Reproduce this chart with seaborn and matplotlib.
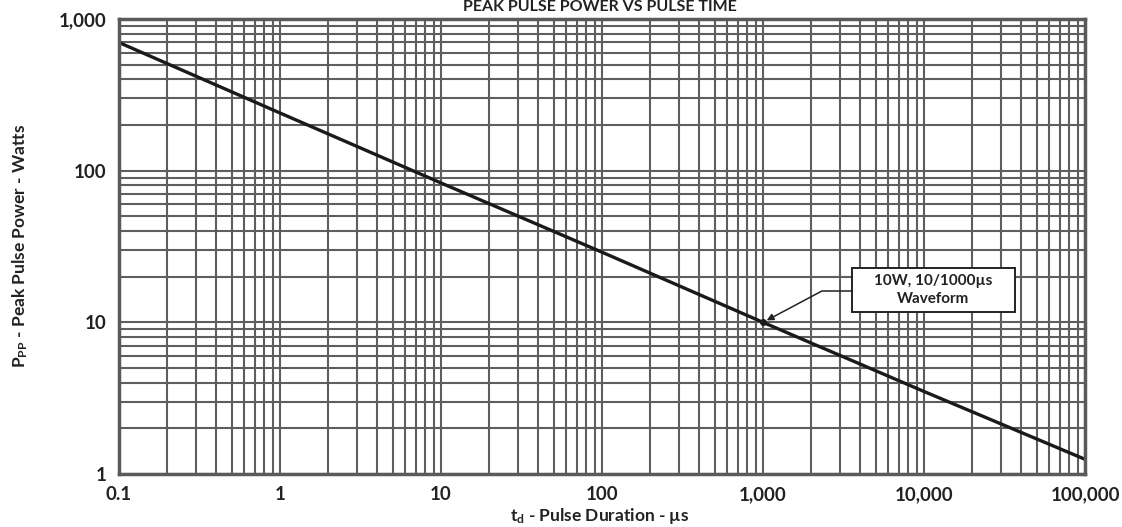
import numpy as np
import pandas as pd
import matplotlib
matplotlib.use("Agg")
import matplotlib.pyplot as plt
import matplotlib.ticker as mticker
from matplotlib.patches import Rectangle
import seaborn as sns

# values at each decade
pulse_us = [0.1, 1, 10, 100, 1000, 10000, 100000]
power_w = [700, 240, 83, 29, 10, 3.5, 1.25]
x_ticks = [0.1, 1, 10, 100, 1000, 10000, 100000]
x_labels = ["0.1", "1", "10", "100", "1,000", "10,000", "100,000"]
y_ticks = [1, 10, 100, 1000]
y_labels = ["1", "10", "100", "1,000"]
marker_pt = (1000, 10)

sns.set_style("white")
plt.rcParams['font.family'] = ['Lato', 'DejaVu Sans']
plt.rcParams['mathtext.fontset'] = 'custom'
plt.rcParams['mathtext.rm'] = 'Lato:bold'
plt.rcParams['mathtext.it'] = 'Lato:bold'
plt.rcParams['mathtext.bf'] = 'Lato:bold'

W, H = 1122, 527
df = pd.DataFrame({"t": pulse_us, "p": power_w})

fig = plt.figure(figsize=(W / 100, H / 100), dpi=100)
ax = fig.add_axes([119 / W, 1 - 474 / H, (1085 - 119) / W, (474 - 19) / H])

ax.set_xscale("log")
ax.set_yscale("log")
ax.set_xlim(0.1, 100000)
ax.set_ylim(1, 1000)

ax.xaxis.set_minor_locator(mticker.LogLocator(base=10, subs=np.arange(2, 10), numticks=20))
ax.yaxis.set_minor_locator(mticker.LogLocator(base=10, subs=np.arange(2, 10), numticks=20))
ax.xaxis.set_minor_formatter(mticker.NullFormatter())
ax.yaxis.set_minor_formatter(mticker.NullFormatter())
ax.grid(True, which="both", color="#5e5e5e", linewidth=1.5)
ax.set_axisbelow(True)

sns.lineplot(data=df, x="t", y="p", ax=ax, color="#1a1a1a", linewidth=2.4)
ax.plot([marker_pt[0]], [marker_pt[1]], "o", color="#1a1a1a", markersize=4)

ax.set_xticks(x_ticks)
ax.set_xticklabels(x_labels)
ax.set_yticks(y_ticks)
ax.set_yticklabels(y_labels)
ax.tick_params(axis="both", which="both", length=0, pad=9, labelsize=13.5, labelcolor="#222222")
for lab in ax.get_xticklabels() + ax.get_yticklabels():
    lab.set_fontweight("bold")
ax.set_xlabel("")
ax.set_ylabel("")

for sp in ax.spines.values():
    sp.set_visible(True)
    sp.set_color("#5a5a5a")
    sp.set_linewidth(2.5)

# callout box and arrow
fig.patches.append(Rectangle((852 / W, 1 - 312 / H), 163 / W, 44 / H, transform=fig.transFigure,
                             fc="white", ec="#222222", lw=1.4, zorder=5))
fig.text(933 / W, 1 - 290 / H, "10W, 10/1000µs\nWaveform", ha="center", va="center",
         fontsize=11, fontweight="bold", color="#222222", linespacing=1.3, zorder=6)
ax.annotate("", xy=marker_pt, xycoords="data",
            xytext=(852 / W, 1 - 291 / H), textcoords="figure fraction",
            arrowprops=dict(arrowstyle="-|>", color="#222222", lw=1.1,
                            connectionstyle="angle,angleA=0,angleB=28,rad=0",
                            shrinkA=0, shrinkB=3, mutation_scale=10))

fig.text(600 / W, 1.0, "PEAK PULSE POWER VS PULSE TIME", ha="center", va="top",
         fontsize=11.5, fontweight="bold", color="#222222")
fig.text(600 / W, 1 - 516 / H, "t$_{\\mathrm{d}}$ - Pulse Duration - µs", ha="center", va="center",
         fontsize=12.5, fontweight="bold", color="#222222")
fig.text(20 / W, 1 - 246 / H, "P$_{\\mathrm{PP}}$ - Peak Pulse Power - Watts", ha="center", va="center",
         rotation=90, fontsize=12.5, fontweight="bold", color="#222222")

fig.savefig("out.png", dpi=100)
